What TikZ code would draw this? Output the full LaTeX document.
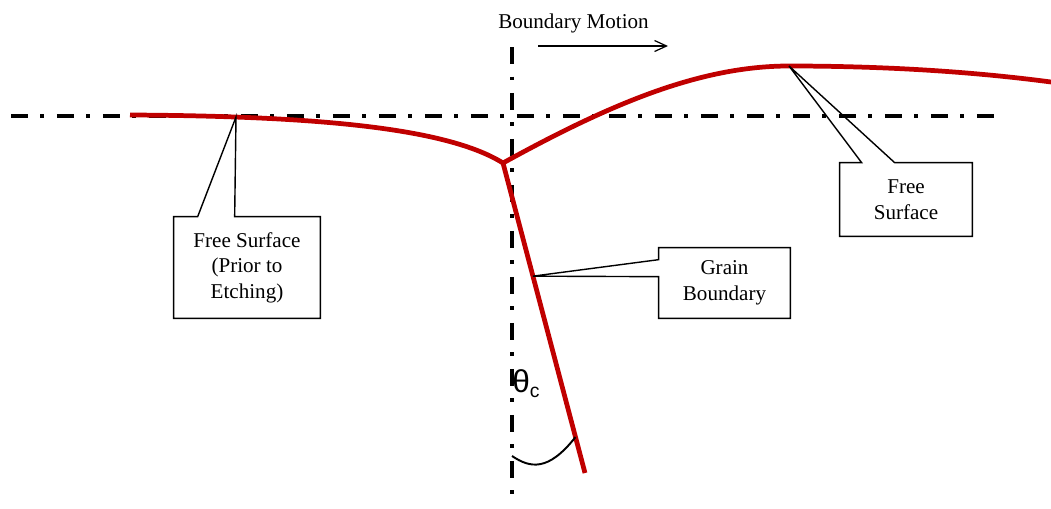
\documentclass[tikz,border=0pt]{standalone}
\usepackage{fontspec}
\setmainfont{Liberation Serif}
\newfontfamily\thetafont{Liberation Sans}
\usetikzlibrary{calc,arrows.meta}
\definecolor{surfred}{RGB}{192,0,0}
\tikzset{
  axisline/.style={line width=2.3pt, dash pattern=on 0.34cm off 0.25cm on 0.07cm off 0.26cm},
  surface/.style={surfred, line width=2.7pt, line join=round},
  calloutbox/.style={draw=none, align=center, inner sep=0pt, font=\fontsize{12}{14.6}\selectfont},
  calloutline/.style={line width=0.8pt, line join=miter},
}

\begin{document}
\begin{tikzpicture}[x=0.02cm, y=-0.02cm]
\useasboundingbox (0,0) rectangle (1051,508);

% Dash-dot reference lines
\draw[axisline] (11,116) -- (1000,116);
\draw[axisline] (512,47) -- (512,497);

% Boundary motion label with arrow
\node[anchor=base, font=\fontsize{12}{14.6}\selectfont] (motion) at (573.5,28) {Boundary Motion};
\coordinate (mstart) at (538,46);
\coordinate (mend) at (668,46);
\draw[-{Straight Barb[length=0.24cm,width=0.22cm]}, line width=0.7pt] (mstart) -- (mend);

% Free surfaces (before and after) and grain boundary
\coordinate (root) at (503,163);
\coordinate (gbend) at (585,473);
\draw[surface] (130,115) .. controls (330,116) and (450,130) .. (root);
\draw[surface] (root) .. controls (610,104) and (700,66) .. (789,66)
  .. controls (870,66) and (960,70) .. (1051,82);
\draw[surface] (root) -- (gbend);

% Angle theta_c
\coordinate (arcstart) at (512,456);
\coordinate (arcend) at ($(root)!0.884!(gbend)$);
\draw[line width=1.1pt] (arcstart) .. controls (530,468) and (548,472) .. (arcend);
\node[anchor=base west, inner sep=0pt] (theta) at (512,392)
  {\thetafont\fontsize{18}{18}\selectfont θ\fontsize{11}{11}\selectfont\raisebox{-3pt}{c}};

% Callout: old free surface
\node[calloutbox, minimum width=2.92cm, minimum height=2.02cm] (fsold) at (247,267.5) {Free Surface\\(Prior to\\Etching)};
\coordinate (fsoldtip) at (236,117);
\draw[calloutline] (fsold.north west) -- ($(fsold.north west)+(24,0)$) -- (fsoldtip)
  -- ($(fsold.north west)+(61,0)$) -- (fsold.north east) -- (fsold.south east)
  -- (fsold.south west) -- cycle;

% Callout: new free surface
\node[calloutbox, minimum width=2.64cm, minimum height=1.46cm] (fsnew) at (906,199.5) {Free\\Surface};
\coordinate (fsnewtip) at (789,66);
\draw[calloutline] (fsnew.north west) -- ($(fsnew.north west)+(22,0)$) -- (fsnewtip)
  -- ($(fsnew.north west)+(55,0)$) -- (fsnew.north east) -- (fsnew.south east)
  -- (fsnew.south west) -- cycle;

% Callout: grain boundary
\node[calloutbox, minimum width=2.62cm, minimum height=1.40cm] (gb) at (724.5,283) {Grain\\Boundary};
\coordinate (gbtip) at ($(root)!0.365!(gbend)$);
\draw[calloutline] (gb.north west) -- (gb.north east) -- (gb.south east) -- (gb.south west)
  -- ($(gb.north west)+(0,29)$) -- (gbtip) -- ($(gb.north west)+(0,12)$) -- cycle;

\end{tikzpicture}
\end{document}
